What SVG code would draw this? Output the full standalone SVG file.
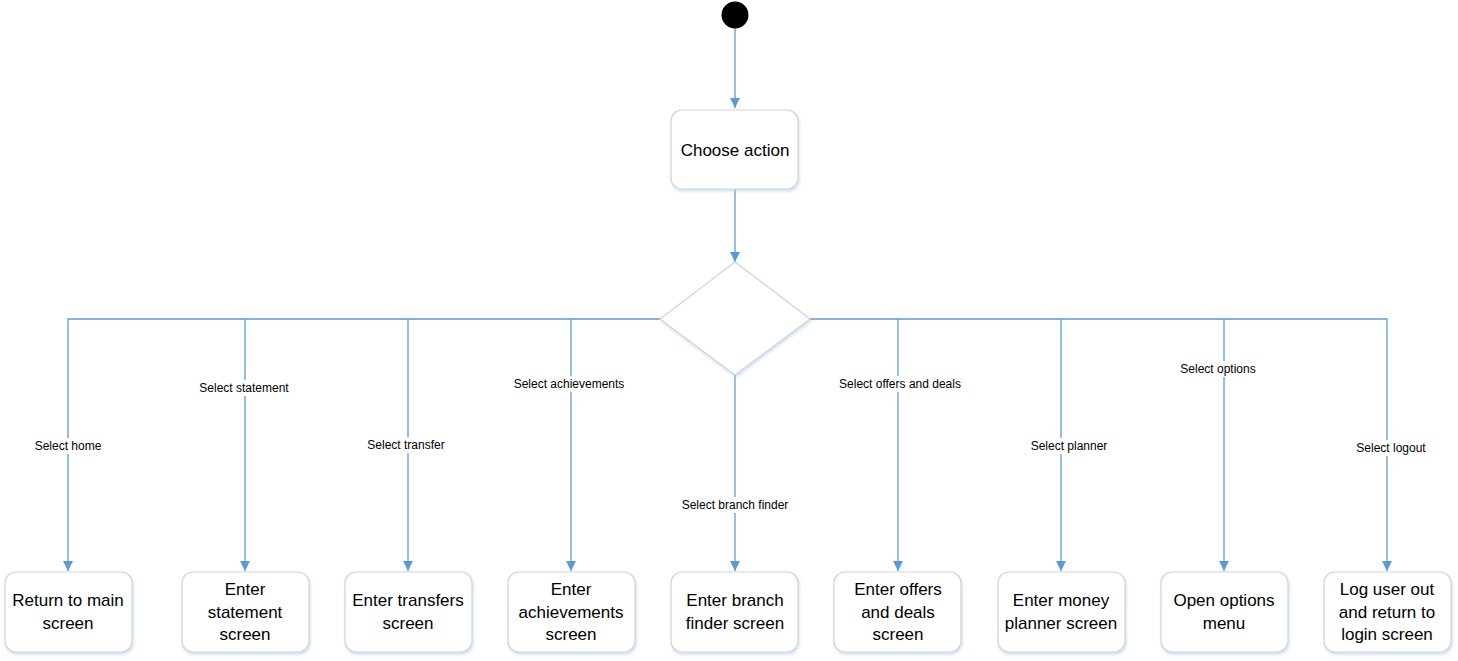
<svg xmlns="http://www.w3.org/2000/svg" width="1458" height="661" viewBox="0 0 1458 661">
<style>
.box{fill:#fff;stroke:#d4d4d4;stroke-width:1.2;filter:url(#sh)}
.t{font-family:"Liberation Sans",Arial,sans-serif;font-size:17px;fill:#000;text-anchor:middle}
.lbl{font-family:"Liberation Sans",Arial,sans-serif;font-size:12px;fill:#000;text-anchor:middle}
.lb{fill:#fff}
.c{stroke:#5b9bd5;stroke-width:1.3;fill:none}
</style>
<defs>
<marker id="ar" viewBox="0 0 10 10" refX="10" refY="5" markerWidth="10" markerHeight="10" markerUnits="userSpaceOnUse" orient="auto">
<path d="M0,0 L10,5 L0,10 z" fill="#5b9bd5"/>
</marker>
<filter id="sh" x="-10%" y="-10%" width="130%" height="130%">
<feDropShadow dx="1" dy="2" stdDeviation="1.5" flood-color="#9dc3e6" flood-opacity="0.5"/>
</filter>
</defs>
<g id="connectors">
<path class="c" d="M735,28 V108" marker-end="url(#ar)"/>
<path class="c" d="M735,189 V262" marker-end="url(#ar)"/>
<path class="c" d="M660,319 H68 V571" marker-end="url(#ar)"/>
<path class="c" d="M245,319 V571" marker-end="url(#ar)"/>
<path class="c" d="M408,319 V571" marker-end="url(#ar)"/>
<path class="c" d="M571,319 V571" marker-end="url(#ar)"/>
<path class="c" d="M735,375 V571" marker-end="url(#ar)"/>
<path class="c" d="M810,319 H1387 V571" marker-end="url(#ar)"/>
<path class="c" d="M898,319 V571" marker-end="url(#ar)"/>
<path class="c" d="M1061,319 V571" marker-end="url(#ar)"/>
<path class="c" d="M1224,319 V571" marker-end="url(#ar)"/>
<g>
<rect class="lb" x="30" y="438" width="76" height="16"/>
<text class="lbl" x="68" y="450">Select home</text>
<rect class="lb" x="192" y="380" width="104" height="16"/>
<text class="lbl" x="244" y="392">Select statement</text>
<rect class="lb" x="360" y="437" width="92" height="16"/>
<text class="lbl" x="406" y="449">Select transfer</text>
<rect class="lb" x="506" y="376" width="126" height="16"/>
<text class="lbl" x="569" y="388">Select achievements</text>
<rect class="lb" x="672" y="497" width="126" height="16"/>
<text class="lbl" x="735" y="509">Select branch finder</text>
<rect class="lb" x="830" y="376" width="140" height="16"/>
<text class="lbl" x="900" y="388">Select offers and deals</text>
<rect class="lb" x="1024" y="438" width="90" height="16"/>
<text class="lbl" x="1069" y="450">Select planner</text>
<rect class="lb" x="1173" y="361" width="90" height="16"/>
<text class="lbl" x="1218" y="373">Select options</text>
<rect class="lb" x="1349" y="440" width="84" height="16"/>
<text class="lbl" x="1391" y="452">Select logout</text>
</g>
</g>
<g id="start"><circle cx="735" cy="15" r="13.5" fill="#000"/></g>
<g id="choose"><rect class="box" x="671" y="110" width="127" height="79" rx="11"/><text class="t" x="735" y="156">Choose action</text></g>
<g id="decision"><path class="box" d="M735,262 L810,319 L735,375 L660,319 Z"/></g>
<g id="n1"><rect class="box" x="5" y="572" width="127" height="80" rx="11"/><text class="t" x="68" y="606">Return to main</text><text class="t" x="68" y="629">screen</text></g>
<g id="n2"><rect class="box" x="182" y="572" width="127" height="80" rx="11"/><text class="t" x="245" y="595">Enter</text><text class="t" x="245" y="618">statement</text><text class="t" x="245" y="640">screen</text></g>
<g id="n3"><rect class="box" x="345" y="572" width="127" height="80" rx="11"/><text class="t" x="408" y="606">Enter transfers</text><text class="t" x="408" y="629">screen</text></g>
<g id="n4"><rect class="box" x="508" y="572" width="127" height="80" rx="11"/><text class="t" x="571" y="595">Enter</text><text class="t" x="571" y="618">achievements</text><text class="t" x="571" y="640">screen</text></g>
<g id="n5"><rect class="box" x="671" y="572" width="127" height="80" rx="11"/><text class="t" x="735" y="606">Enter branch</text><text class="t" x="735" y="629">finder screen</text></g>
<g id="n6"><rect class="box" x="834" y="572" width="127" height="80" rx="11"/><text class="t" x="898" y="595">Enter offers</text><text class="t" x="898" y="618">and deals</text><text class="t" x="898" y="640">screen</text></g>
<g id="n7"><rect class="box" x="998" y="572" width="127" height="80" rx="11"/><text class="t" x="1061" y="606">Enter money</text><text class="t" x="1061" y="629">planner screen</text></g>
<g id="n8"><rect class="box" x="1161" y="572" width="127" height="80" rx="11"/><text class="t" x="1224" y="606">Open options</text><text class="t" x="1224" y="629">menu</text></g>
<g id="n9"><rect class="box" x="1324" y="572" width="127" height="80" rx="11"/><text class="t" x="1387" y="595">Log user out</text><text class="t" x="1387" y="618">and return to</text><text class="t" x="1387" y="640">login screen</text></g>
</svg>
